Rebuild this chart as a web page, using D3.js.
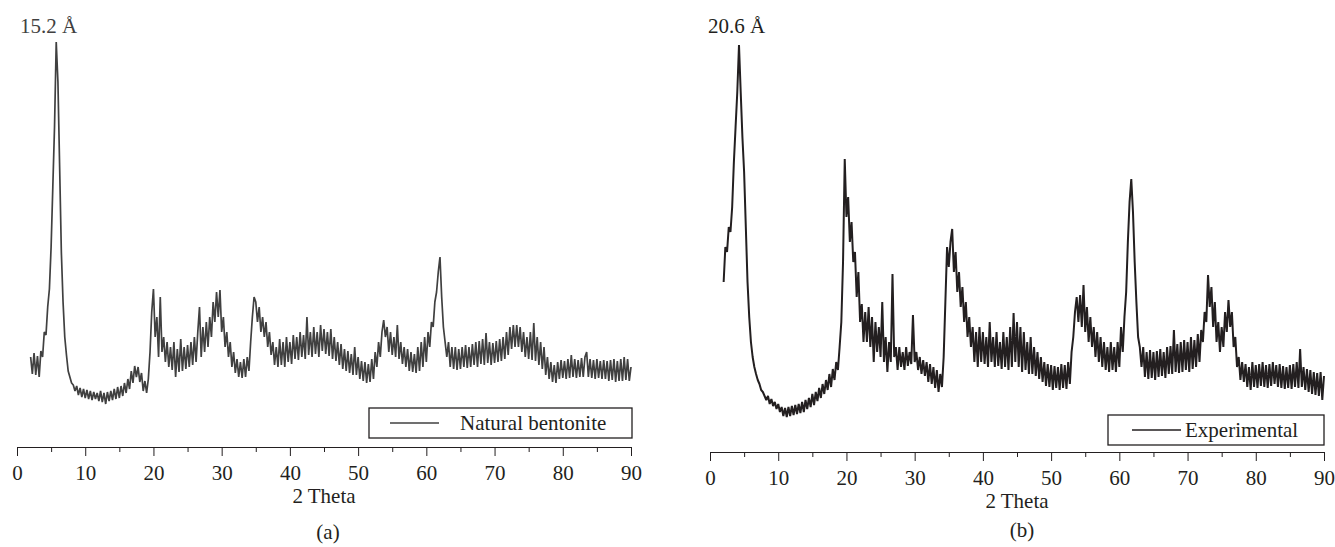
<!DOCTYPE html>
<html>
<head>
<meta charset="utf-8">
<script src="https://cdn.jsdelivr.net/npm/d3@7"></script>
<style>
  body { margin: 0; background: #fff; }
  svg text { font-family: "Liberation Serif", "Times New Roman", serif; font-size: 21px; fill: #231f20; }
</style>
</head>
<body>
<svg id="chart" width="1335" height="547"></svg>
<script>
// XRD scans, 2 theta from 2 to 90 deg, step 0.25 deg (intensity in counts)
const scanStep = 0.25;
const twoTheta = d3.range(2, 90 + scanStep / 2, scanStep);

// (a) natural bentonite
const bentonite = [
  900,730,940,720,910,700,960,900,
  1150,1120,1400,1580,2000,2600,3200,4050,
  3650,2800,1950,1450,1100,920,760,700,
  640,620,560,610,520,590,500,580,
  490,570,480,560,470,550,480,540,
  460,560,450,540,430,550,460,560,
  470,580,480,600,490,610,510,640,
  540,680,580,760,640,810,700,800,
  650,740,560,660,540,680,950,1350,
  1580,1100,1300,900,1500,950,1100,850,
  1050,800,1000,770,1050,700,980,750,
  1080,760,1000,780,1020,800,1050,820,
  1100,850,1150,1400,900,1200,950,1250,
  1000,1300,1100,1450,1250,1550,1300,1570,
  1150,1300,1000,1150,900,1050,800,950,
  740,880,700,850,690,880,700,900,
  760,1050,1300,1500,1450,1250,1400,1150,
  1300,1100,1250,1000,1150,920,1050,820,
  1000,800,1080,820,1050,800,1100,850,
  1050,830,1120,880,1100,870,1150,900,
  1120,880,1300,920,1150,900,1200,930,
  1150,900,1220,960,1180,930,1150,910,
  1180,880,1100,860,1050,820,1030,780,
  980,760,960,740,930,720,1000,720,
  900,680,860,660,850,640,830,650,
  880,680,950,800,1050,900,1150,1270,
  1100,1200,950,1150,920,1100,900,1220,
  880,1050,830,1000,800,980,760,950,
  750,930,740,1000,760,1050,800,1100,
  850,1150,1000,1250,1200,1450,1550,1750,
  1900,1500,1200,1050,900,1050,800,1000,
  780,1000,770,980,780,1000,800,1020,
  790,1000,800,1030,820,1050,800,1060,
  830,1080,820,1140,840,1050,820,1040,
  840,1060,850,1080,860,1100,880,1150,
  920,1200,980,1220,1000,1220,1000,1200,
  950,1150,900,1100,880,1150,870,1240,
  860,1100,820,1050,780,1000,720,900,
  680,850,650,820,640,850,680,870,
  690,860,680,880,690,920,700,880,
  690,870,700,890,700,900,950,700,
  880,690,870,680,880,690,860,680,
  870,680,860,660,870,670,880,650,
  860,660,880,660,900,670,880,660,
  800
];

// (b) experimental
const experimental = [
  1700,2050,2000,2250,2200,2450,2900,3250,
  3600,4070,3600,3150,2800,2250,1700,1350,
  1100,950,850,780,720,680,620,600,
  560,520,560,480,530,460,500,430,
  480,400,450,360,440,350,450,360,
  460,370,470,380,480,390,500,400,
  520,430,540,450,580,470,600,510,
  640,540,680,580,720,620,780,650,
  830,720,900,820,1050,1300,1900,2930,
  2350,2550,2100,2300,1900,2000,1550,1800,
  1300,1480,1100,1400,1100,1450,1050,1350,
  900,1300,1000,1250,950,1500,900,1150,
  800,1100,900,1780,950,1050,820,1050,
  850,1000,820,1050,860,1000,880,1370,
  900,1000,820,950,780,920,760,900,
  700,880,680,850,640,820,600,780,
  650,950,1500,2050,1850,2100,2230,1800,
  2000,1600,1800,1450,1650,1300,1500,1150,
  1350,1050,1250,900,1200,850,1250,900,
  1200,880,1150,850,1300,900,1150,850,
  1200,860,1100,830,1200,850,1150,820,
  1250,850,1390,900,1300,850,1250,800,
  1200,820,1100,780,1150,780,1050,760,
  1000,730,950,700,900,660,880,650,
  870,620,860,640,850,620,880,640,
  870,630,900,680,1000,1150,1400,1550,
  1300,1570,1250,1670,1200,1450,1100,1350,
  1050,1250,950,1200,900,1150,850,1100,
  820,1050,800,1100,820,1050,800,1100,
  850,1250,1000,1350,1600,2100,2500,2730,
  2400,1900,1500,1150,1050,850,1050,750,
  1000,730,1020,740,1000,720,1010,750,
  1030,760,1000,740,1050,780,1060,780,
  1220,800,1080,790,1100,800,1120,820,
  1100,800,1150,830,1120,850,1180,900,
  1220,1100,1400,1300,1770,1450,1650,1250,
  1500,1100,1300,1000,1250,1050,1400,1200,
  1520,1250,1400,1050,1150,850,950,720,
  900,700,880,650,850,620,900,650,
  870,640,880,660,900,650,870,640,
  880,660,900,680,870,650,880,640,
  860,630,850,640,870,630,880,650,
  900,640,1030,650,850,620,830,600,
  820,580,800,570,790,560,800,520,
  760
];

const majorTicks = [0, 10, 20, 30, 40, 50, 60, 70, 80, 90];
const minorTicks = [5, 15, 25, 35, 45, 55, 65, 75, 85];
const serif = '"Liberation Serif", "Times New Roman", serif';

const panels = [
  { values: bentonite, name: "Natural bentonite", peak: "15.2 Å", tag: "(a)",
    left: 17, right: 631, axisY: 447, top: 42, yMax: 4050, color: "#404040", width: 1.7,
    peakX: 20, tagX: 328, tagY: 539,
    legend: { x: 369, y: 408, w: 263, h: 30, lx1: 390, lx2: 439, tx: 460 } },
  { values: experimental, name: "Experimental", peak: "20.6 Å", tag: "(b)",
    left: 710, right: 1324, axisY: 452, top: 45, yMax: 4070, color: "#231f20", width: 2,
    peakX: 708, tagX: 1022, tagY: 537,
    legend: { x: 1108, y: 415, w: 216, h: 30, lx1: 1132, lx2: 1181, tx: 1185 } }
];

const svg = d3.select("#chart");

panels.forEach(p => {
  const x = d3.scaleLinear().domain([0, 90]).range([p.left, p.right]);
  const y = d3.scaleLinear().domain([0, p.yMax]).range([p.axisY, p.top]);
  const g = svg.append("g");

  // pattern (noisy scan, drawn thick so the noise reads as a band)
  const line = d3.line()
    .x((d, i) => x(twoTheta[i]))
    .y(d => y(d));
  g.append("path")
    .datum(p.values)
    .attr("fill", "none")
    .attr("stroke", p.color)
    .attr("stroke-width", p.width)
    .attr("stroke-linejoin", "bevel")
    .attr("d", line);

  // minor ticks first, then the main axis with labels
  g.append("g")
    .attr("transform", `translate(0,${p.axisY})`)
    .call(d3.axisBottom(x).tickValues(minorTicks).tickSize(5).tickSizeOuter(0).tickFormat(""))
    .call(a => a.select(".domain").remove())
    .call(a => a.selectAll("line").attr("stroke", "#231f20"));

  const ax = g.append("g")
    .attr("transform", `translate(0,${p.axisY})`)
    .attr("font-family", serif)
    .attr("font-size", 21)
    .call(d3.axisBottom(x).tickValues(majorTicks).tickSize(9).tickSizeOuter(0).tickPadding(9));
  ax.attr("font-family", serif).attr("font-size", 21);
  ax.select(".domain").attr("stroke", "#231f20");
  ax.selectAll("line").attr("stroke", "#231f20");
  ax.selectAll("text")
    .style("font-family", serif)
    .style("font-size", "21px")
    .attr("fill", "#231f20");

  // axis title and panel tag
  g.append("text")
    .attr("x", (p.left + p.right) / 2)
    .attr("y", p.axisY + 56)
    .attr("text-anchor", "middle")
    .text("2 Theta");
  g.append("text")
    .attr("x", p.tagX)
    .attr("y", p.tagY)
    .attr("text-anchor", "middle")
    .text(p.tag);

  // d-spacing label above the basal peak
  g.append("text")
    .attr("x", p.peakX)
    .attr("y", 33)
    .style("fill", p.color)
    .text(p.peak);

  // legend
  const L = p.legend;
  g.append("rect")
    .attr("x", L.x).attr("y", L.y)
    .attr("width", L.w).attr("height", L.h)
    .attr("fill", "#fff")
    .attr("stroke", "#231f20")
    .attr("stroke-width", 1.3);
  g.append("line")
    .attr("x1", L.lx1).attr("x2", L.lx2)
    .attr("y1", L.y + L.h / 2).attr("y2", L.y + L.h / 2)
    .attr("stroke", p.color)
    .attr("stroke-width", 1.3);
  g.append("text")
    .attr("x", L.tx)
    .attr("y", L.y + L.h / 2 + 7)
    .text(p.name);
});
</script>
</body>
</html>
